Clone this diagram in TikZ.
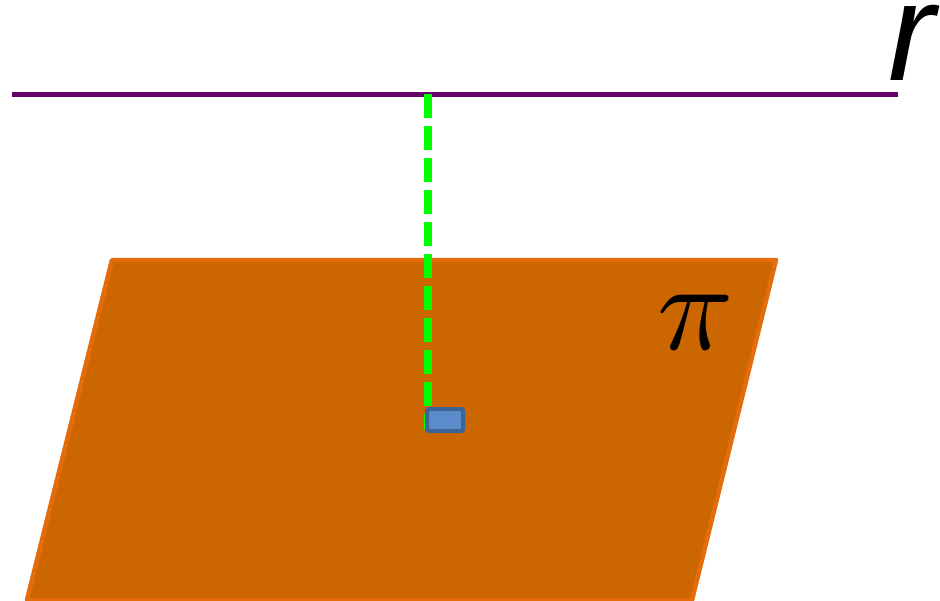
\documentclass[tikz,border=0pt]{standalone}
\usepackage{fontspec}
\usepackage{graphicx}
\newfontfamily\arialfont{Liberation Sans}
\definecolor{planefill}{HTML}{CC6600}
\definecolor{planeedge}{HTML}{E46C0A}
\definecolor{linepurple}{HTML}{660066}
\definecolor{dashgreen}{HTML}{00FF00}
\definecolor{markfill}{HTML}{5B8BCB}
\definecolor{markedge}{HTML}{3C6494}
\begin{document}
\begin{tikzpicture}[x=1pt,y=-1pt,
  plane/.style={fill=planefill,draw=planeedge,line width=4.5pt,line join=round},
  rline/.style={draw=linepurple,line width=5pt},
  perp/.style={draw=dashgreen,line width=8pt,dash pattern=on 24pt off 8pt},
  marker/.style={fill=markfill,draw=markedge,line width=4pt,rounded corners=1.5pt}]
\useasboundingbox (0,0) rectangle (940,600);
\coordinate (A) at (112,260);
\coordinate (B) at (776,260);
\coordinate (C) at (692,600);
\coordinate (D) at (27,600);
\filldraw[plane] (A) -- (B) -- (C) -- (D) -- cycle;
\coordinate (r1) at (12,94);
\coordinate (r2) at (898,94);
\draw[rline] (r1) -- (r2);
\coordinate (foot) at (428,430);
\coordinate (top) at (428,94);
\draw[perp] (top) -- (foot);
\filldraw[marker] (427,409) rectangle (463,431);
\node[anchor=base west,inner sep=0pt,font=\arialfont\itshape\fontsize{140}{140}\selectfont] (rlab) at (888,80) {r};
\node[inner sep=0pt] (pilab) at (696,322) {\scalebox{12.6}{$\pi$}};
\end{tikzpicture}
\end{document}
